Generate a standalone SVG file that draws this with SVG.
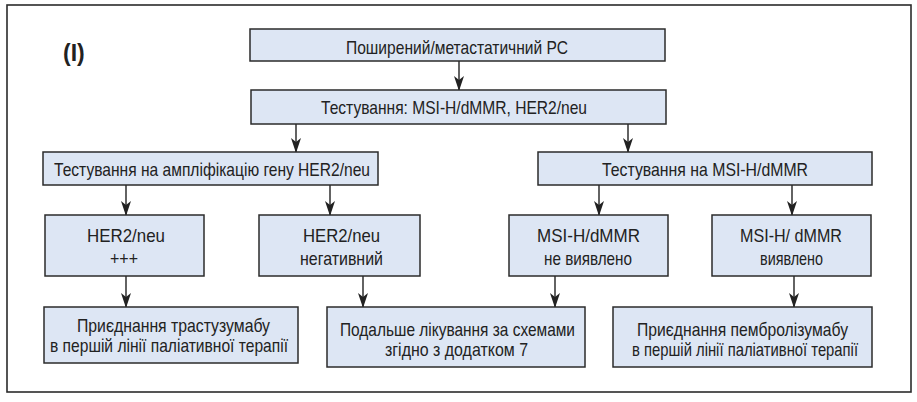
<svg xmlns="http://www.w3.org/2000/svg" width="917" height="402" viewBox="0 0 917 402">
<defs>
<style>
.frame{fill:#ffffff;stroke:#2b2b2b;stroke-width:1.6}
.box{fill:#dde6f4;stroke:#2b2b2b;stroke-width:1.5}
.t{font-family:"Liberation Sans",Arial,sans-serif;font-size:18.5px;fill:#222}
.lbl{font-family:"Liberation Sans",Arial,sans-serif;font-size:23px;font-weight:bold;fill:#222}
.c{fill:none;stroke:#222;stroke-width:1.4;marker-end:url(#ah)}
</style>
<marker id="ah" markerUnits="userSpaceOnUse" markerWidth="15" markerHeight="10" refX="14" refY="5" orient="auto" viewBox="0 0 15 10">
<path d="M0,0 L15,5 L0,10 L4,5 Z" fill="#222"/>
</marker>
</defs>
<rect class="frame" x="7" y="5" width="904" height="387"/>
<text class="lbl" x="63" y="61">(I)</text>
<g id="connectors">
<line class="c" x1="459" y1="61" x2="459" y2="90"/>
<line class="c" x1="296" y1="124" x2="296" y2="152"/>
<line class="c" x1="628" y1="124" x2="628" y2="152"/>
<line class="c" x1="126" y1="185" x2="126" y2="215"/>
<line class="c" x1="330" y1="185" x2="330" y2="215"/>
<line class="c" x1="599" y1="185" x2="599" y2="215"/>
<line class="c" x1="792" y1="185" x2="792" y2="215"/>
<line class="c" x1="126" y1="276" x2="126" y2="307"/>
<line class="c" x1="363" y1="276" x2="363" y2="307"/>
<line class="c" x1="555" y1="276" x2="555" y2="307"/>
<line class="c" x1="794" y1="276" x2="794" y2="307"/>
</g>
<g id="n1"><rect class="box" x="250" y="29" width="415" height="32"/><text class="t" x="346" y="54" textLength="222" lengthAdjust="spacingAndGlyphs">Поширений/метастатичний РС</text></g>
<g id="n2"><rect class="box" x="251" y="90" width="415" height="34"/><text class="t" x="321" y="114" textLength="266" lengthAdjust="spacingAndGlyphs">Тестування: MSI-H/dMMR, HER2/neu</text></g>
<g id="n3"><rect class="box" x="43" y="152" width="335" height="33"/><text class="t" x="54" y="176" textLength="316" lengthAdjust="spacingAndGlyphs">Тестування на ампліфікацію гену HER2/neu</text></g>
<g id="n4"><rect class="box" x="538" y="152" width="334" height="33"/><text class="t" x="602" y="176" textLength="206" lengthAdjust="spacingAndGlyphs">Тестування на MSI-H/dMMR</text></g>
<g id="n5"><rect class="box" x="45" y="215" width="159" height="61"/><text class="t" x="87" y="242" textLength="78" lengthAdjust="spacingAndGlyphs">HER2/neu</text><text class="t" x="110" y="265" textLength="28" lengthAdjust="spacingAndGlyphs">+++</text></g>
<g id="n6"><rect class="box" x="259" y="215" width="161" height="61"/><text class="t" x="303" y="242" textLength="77" lengthAdjust="spacingAndGlyphs">HER2/neu</text><text class="t" x="300" y="265" textLength="83" lengthAdjust="spacingAndGlyphs">негативний</text></g>
<g id="n7"><rect class="box" x="509" y="215" width="159" height="61"/><text class="t" x="537" y="242" textLength="103" lengthAdjust="spacingAndGlyphs">MSI-H/dMMR</text><text class="t" x="544" y="265" textLength="88" lengthAdjust="spacingAndGlyphs">не виявлено</text></g>
<g id="n8"><rect class="box" x="712" y="215" width="159" height="61"/><text class="t" x="740" y="242" textLength="102" lengthAdjust="spacingAndGlyphs">MSI-H/ dMMR</text><text class="t" x="760" y="265" textLength="63" lengthAdjust="spacingAndGlyphs">виявлено</text></g>
<g id="n9"><rect class="box" x="44" y="307" width="254" height="56"/><text class="t" x="77" y="332" textLength="193" lengthAdjust="spacingAndGlyphs">Приєднання трастузумабу</text><text class="t" x="50" y="352" textLength="238" lengthAdjust="spacingAndGlyphs">в першій лінії паліативної терапії</text></g>
<g id="n10"><rect class="box" x="327" y="307" width="258" height="60"/><text class="t" x="340" y="336" textLength="235" lengthAdjust="spacingAndGlyphs">Подальше лікування за схемами</text><text class="t" x="385" y="356" textLength="143" lengthAdjust="spacingAndGlyphs">згідно з додатком 7</text></g>
<g id="n11"><rect class="box" x="613" y="307" width="259" height="60"/><text class="t" x="637" y="336" textLength="211" lengthAdjust="spacingAndGlyphs">Приєднання пембролізумабу</text><text class="t" x="632" y="356" textLength="226" lengthAdjust="spacingAndGlyphs">в першій лінії паліативної терапії</text></g>
</svg>
